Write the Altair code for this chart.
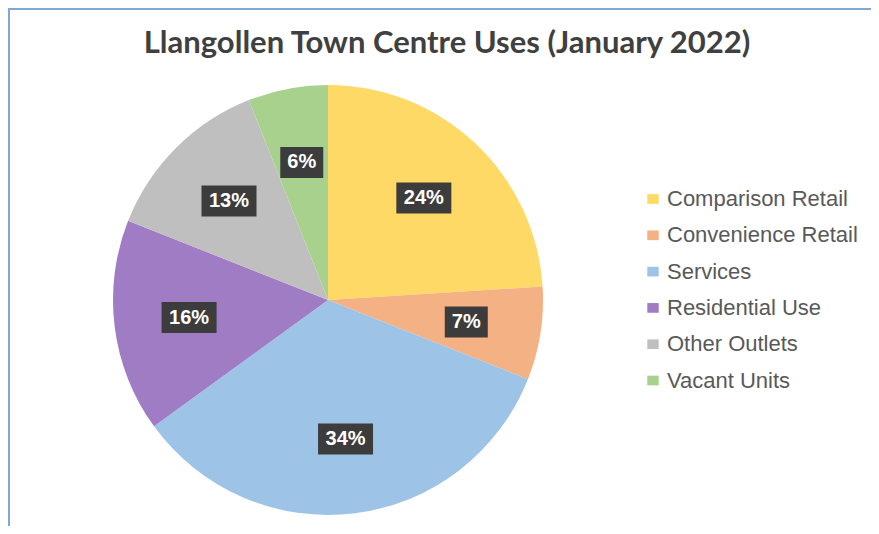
import altair as alt
import pandas as pd

CATEGORIES = ["Comparison Retail", "Convenience Retail", "Services",
              "Residential Use", "Other Outlets", "Vacant Units"]
VALUES = [24, 7, 34, 16, 13, 6]
COLORS = ["#FFD966", "#F4B183", "#9DC3E6", "#A07CC4", "#BFBFBF", "#A9D18E"]
TITLE = ["Llangollen Town Centre Uses (January 2022)"]

W, H = 863, 518
CX, CY, R = 320, 292, 215
LR = 140

df = pd.DataFrame({"category": CATEGORIES, "value": VALUES,
                   "idx": list(range(len(VALUES)))})
base = alt.Chart(df)

color = alt.Color(
    "category:N",
    scale=alt.Scale(domain=CATEGORIES, range=COLORS),
    legend=alt.Legend(
        orient="none", legendX=634, legendY=180, title=None,
        symbolType="M-1,-0.85H1V0.85H-1Z", symbolSize=130,
        symbolStrokeWidth=0, symbolOpacity=1,
        labelFont="Liberation Sans", labelFontSize=22, labelColor="#595959",
        labelOffset=3, rowPadding=14.3, padding=0, labelLimit=300,
    ),
)

pie = base.mark_arc(outerRadius=R).encode(
    theta=alt.Theta("value:Q", stack=True),
    color=color,
    order=alt.Order("idx:Q"),
    x=alt.value(CX),
    y=alt.value(CY),
)

lab = (
    base.transform_joinaggregate(total="sum(value)")
    .transform_window(cum="sum(value)", sort=[alt.SortField("idx")], frame=[None, 0])
    .transform_calculate(mid="2*PI*(datum.cum - datum.value/2)/datum.total")
    .transform_calculate(lx=f"{CX} + {LR}*sin(datum.mid)")
    .transform_calculate(ly=f"{CY} - {LR}*cos(datum.mid)")
    .transform_calculate(pct="format(datum.value/datum.total, '.0%')")
    .transform_calculate(bw="12*length(datum.pct) + 19")
    .transform_calculate(bx1="datum.lx - datum.bw/2")
    .transform_calculate(bx2="datum.lx + datum.bw/2")
    .transform_calculate(by1="datum.ly - 15.5")
    .transform_calculate(by2="datum.ly + 15.5")
)

boxes = lab.mark_rect(color="#3C3C3C").encode(
    x=alt.X("bx1:Q", scale=None, axis=None),
    x2="bx2:Q",
    y=alt.Y("by1:Q", scale=None, axis=None),
    y2="by2:Q",
)

texts = lab.mark_text(font="Liberation Sans", fontWeight="bold", fontSize=20,
                      color="white", baseline="middle", align="center").encode(
    x=alt.X("lx:Q", scale=None, axis=None),
    y=alt.Y("ly:Q", scale=None, axis=None),
    text="pct:N",
)

title = alt.Chart(pd.DataFrame({"t": TITLE})).mark_text(
    font="Lato", fontWeight="bold", fontSize=31, color="#404040",
    baseline="alphabetic", align="center",
).encode(x=alt.value(439), y=alt.value(45), text="t:N")

border_l = alt.Chart(alt.Data(values=[{}])).mark_rule(color="#7FA7D8", strokeWidth=2).encode(
    x=alt.value(1), y=alt.value(0), y2=alt.value(H))
border_t = alt.Chart(alt.Data(values=[{}])).mark_rule(color="#7FA7D8", strokeWidth=2).encode(
    x=alt.value(0), x2=alt.value(W), y=alt.value(1))

chart = alt.layer(border_l, border_t, pie, boxes, texts, title).properties(
    width=W, height=H, autosize="none", padding=0,
).configure_view(stroke=None)

chart.save("out.html", embed_options={"renderer": "svg", "actions": False})
